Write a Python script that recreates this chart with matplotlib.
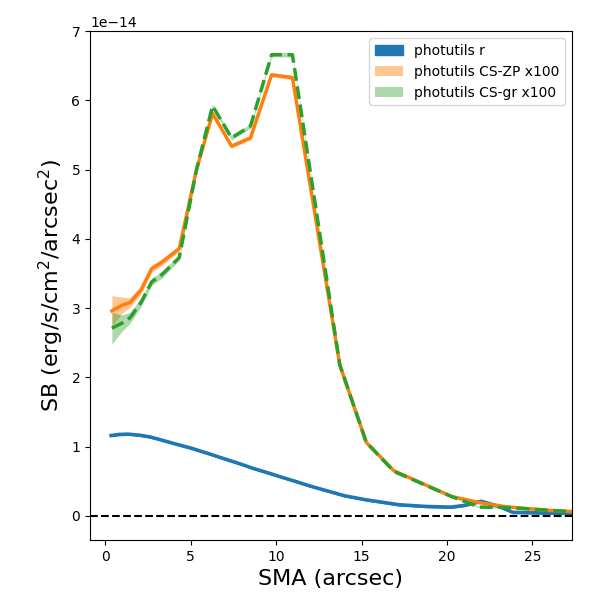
import numpy as np
import matplotlib
matplotlib.use("Agg")
import matplotlib.pyplot as plt

scale = 1e-14

# SMA grid for the colour-scaled profiles (arcsec)
sma = [0.4, 0.97, 1.46, 2.1, 2.73, 3.31, 4.34, 5.35, 6.29, 7.4, 8.51, 9.74,
       10.96, 13.73, 15.28, 16.9, 20.25, 21.9, 23.46, 25.9, 27.3]

# photutils CS-ZP x100
zp = [2.96, 3.04, 3.08, 3.26, 3.57, 3.66, 3.86, 5.0, 5.81, 5.34, 5.46, 6.37,
      6.33, 2.18, 1.06, 0.65, 0.28, 0.19, 0.13, 0.08, 0.06]
zp_err = [0.22, 0.12, 0.07, 0.06, 0.05, 0.05, 0.04, 0.03, 0.03, 0.03, 0.03, 0.03,
          0.03, 0.02, 0.02, 0.01, 0.01, 0.01, 0.01, 0.01, 0.01]

# photutils CS-gr x100
gr = [2.71, 2.78, 2.86, 3.08, 3.38, 3.48, 3.73, 5.0, 5.92, 5.46, 5.63, 6.66,
      6.66, 2.18, 1.06, 0.64, 0.28, 0.125, 0.12, 0.08, 0.06]
gr_err = [0.23, 0.12, 0.08, 0.06, 0.05, 0.05, 0.04, 0.03, 0.03, 0.03, 0.03, 0.03,
          0.03, 0.02, 0.02, 0.01, 0.01, 0.01, 0.01, 0.01, 0.01]

# photutils r
sma_r = [0.35, 0.8, 1.36, 2.0, 2.63, 3.3, 4.09, 5.0, 6.04, 6.9, 7.79, 8.6, 9.54,
         10.3, 11.1, 12.0, 13.0, 14.0, 15.3, 17.2, 18.8, 20.25, 21.0, 22.0, 23.0,
         23.85, 25.0, 25.9, 27.3]
r = [1.16, 1.175, 1.18, 1.165, 1.14, 1.095, 1.04, 0.98, 0.90, 0.83, 0.76, 0.69,
     0.62, 0.56, 0.50, 0.43, 0.36, 0.29, 0.23, 0.16, 0.135, 0.126, 0.15, 0.21,
     0.14, 0.05, 0.045, 0.04, 0.035]
r_err = 0.01

fig = plt.figure(figsize=(6, 6), dpi=100)
ax = fig.add_axes([0.15, 0.1, 0.803, 0.848])

sma = np.array(sma)
sma_r = np.array(sma_r)
zp = np.array(zp) * scale
gr = np.array(gr) * scale
r = np.array(r) * scale
zp_err = np.array(zp_err) * scale
gr_err = np.array(gr_err) * scale

ax.fill_between(sma_r, r - r_err * scale, r + r_err * scale, color="C0", label="photutils r")
ax.plot(sma_r, r, color="C0", lw=2.5)

ax.fill_between(sma, zp - zp_err, zp + zp_err, color="C1", alpha=0.45, lw=0,
                label="photutils CS-ZP x100")
ax.plot(sma, zp, color="C1", lw=2.5)

ax.fill_between(sma, gr - gr_err, gr + gr_err, color="C2", alpha=0.4, lw=0,
                label="photutils CS-gr x100")
ax.plot(sma, gr, color="C2", lw=2.5, ls="--")

ax.axhline(0, color="k", ls="--", lw=1.5)

ax.set_xlim(-0.88, 27.3)
ax.set_ylim(-0.35 * scale, 7 * scale)
ax.set_xlabel("SMA (arcsec)", fontsize=16)
ax.set_ylabel("SB (erg/s/cm$^2$/arcsec$^2$)", fontsize=16)
ax.legend(loc="upper right")

plt.savefig("out.png")
